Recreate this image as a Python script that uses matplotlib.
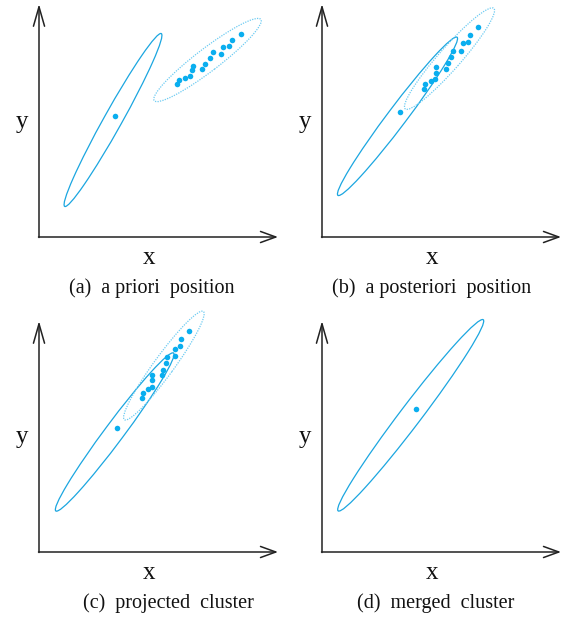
import matplotlib.pyplot as plt
from matplotlib.patches import Ellipse

plt.rcParams['font.family'] = ['Liberation Serif', 'DejaVu Serif']

# all values in pixel-like units measured from each panel's axis corner

# (a) a priori position
a_prior_center = (74, 117)
a_prior_dot = (76, 121)
a_prior_shape = (198, 18, 60.8)          # length, width, angle
a_clu_center = (168.5, 177)
a_clu_shape = (134, 23, 37.3)
a_pts_x = [137.7, 140, 146.3, 151, 152.7, 153.7, 163.3, 166.3, 170.7, 173.7, 181.7, 184.3, 189.7, 193, 202]
a_pts_y = [152.7, 157.3, 159.3, 160.7, 166.7, 171.3, 168.3, 173.3, 178.7, 184.7, 183.3, 190, 190.7, 197, 203]

# (b) a posteriori position
b_prior_center = (75.5, 120.7)
b_prior_dot = (78, 124.7)
b_prior_shape = (198, 19, 53)
b_clu_center = (127.5, 178.4)
b_clu_shape = (134, 22, 48.6)
b_pts_x = [102, 103, 108.7, 113.3, 113.7, 114, 124.3, 126, 129.3, 131, 139.3, 141, 145.7, 147.7, 155.7]
b_pts_y = [148, 153, 156.3, 158.3, 164.3, 169.7, 168.3, 174, 180.3, 186.3, 186.3, 193.7, 195.3, 202.3, 209.7]

# (c) projected cluster
c_prior_center = (75.7, 120)
c_prior_dot = (77.7, 124)
c_prior_shape = (197, 19, 53.3)
c_clu_center = (124.9, 186.4)
c_clu_shape = (134, 20, 53.9)
c_pts_x = [102.7, 103.7, 108.7, 113, 113, 113, 122.7, 124, 126.7, 127.7, 135.7, 136, 141.3, 142, 150]
c_pts_y = [154, 159, 163, 165.3, 171.7, 177, 177, 182.3, 189, 195.3, 196.3, 203, 205.7, 213, 221.3]

# (d) merged cluster
d_center = (88.7, 136.7)
d_dot = (93.7, 143)
d_shape = (240, 21, 52.8)

captions = ['(a)  a priori  position', '(b)  a posteriori  position',
            '(c)  projected  cluster', '(d)  merged  cluster']
caption_x = [113, 110, 129, 113.5]

solid_col = '#1ba6e0'
dot_col = '#0aaeef'
dotted_col = '#6ccbf2'
axis_col = '#222222'

W, H = 568, 618
fig = plt.figure(figsize=(W / 100, H / 100), dpi=100)

# pixel position of each panel's axis corner, and top-left of its quadrant
origins = [(39, 237), (322, 237), (39, 552), (322, 552)]
quads = [(0, 0), (284, 0), (0, 309), (284, 309)]

panels = [
    (a_prior_center, a_prior_dot, a_prior_shape, a_clu_center, a_clu_shape, a_pts_x, a_pts_y),
    (b_prior_center, b_prior_dot, b_prior_shape, b_clu_center, b_clu_shape, b_pts_x, b_pts_y),
    (c_prior_center, c_prior_dot, c_prior_shape, c_clu_center, c_clu_shape, c_pts_x, c_pts_y),
    (d_center, d_dot, d_shape, None, None, None, None),
]

arrow_y = dict(arrowstyle='->,head_length=1.4,head_width=0.4', color=axis_col, lw=1.1, shrinkA=0, shrinkB=0)
arrow_x = dict(arrowstyle='->,head_length=1.1,head_width=0.4', color=axis_col, lw=1.1, shrinkA=0, shrinkB=0)

for i, (pc, pd, ps, cc, cs, px, py) in enumerate(panels):
    qx, qy = quads[i]
    ox, oy = origins[i]
    ax = fig.add_axes([qx / W, 1 - (qy + 309) / H, 284 / W, 309 / H])
    ax.set_xlim(qx - ox, qx + 284 - ox)
    ax.set_ylim(oy - (qy + 309), oy - qy)
    ax.axis('off')

    # axes arrows
    top = oy - qy - 4 if i < 2 else oy - qy - 12
    ax.annotate('', xy=(0, top), xytext=(0, -0.5), arrowprops=arrow_y)
    ax.annotate('', xy=(239, 0), xytext=(-0.5, 0), arrowprops=arrow_x)

    ax.text(-17, 115, 'y', fontsize=18, ha='center', va='center', color='#111111')
    ax.text(110, -21, 'x', fontsize=18, ha='center', va='center', color='#111111')
    ax.text(caption_x[i], -51, captions[i], fontsize=14.5, ha='center', va='center', color='#111111')

    ax.add_patch(Ellipse(pc, ps[0], ps[1], angle=ps[2], fill=False, ec=solid_col, lw=0.9))
    ax.plot([pd[0]], [pd[1]], 'o', color=dot_col, ms=4, mec='none')
    if cc is not None:
        ax.add_patch(Ellipse(cc, cs[0], cs[1], angle=cs[2], fill=False, ec=dotted_col, lw=0.9, ls=(0, (1, 1))))
        ax.plot(px, py, 'o', color=dot_col, ms=4, mec='none', ls='none')

fig.savefig('out.png', dpi=100)
